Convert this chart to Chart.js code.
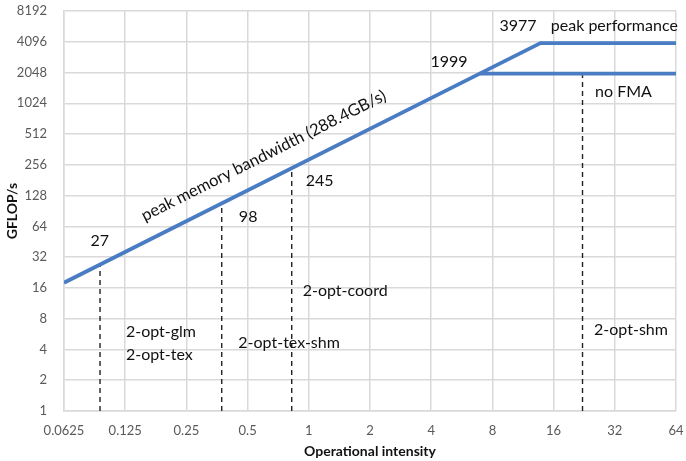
<!DOCTYPE html>
<html>
<head>
<meta charset="utf-8">
<script src="https://cdn.jsdelivr.net/npm/chart.js@4"></script>
<style>
  html, body { margin: 0; padding: 0; background: #fff; }
  #wrap { width: 686px; height: 461px; }
</style>
</head>
<body>
<div id="wrap"><canvas id="roofline"></canvas></div>
<script>
// Axis ticks (log2)
const xTicks = [0.0625, 0.125, 0.25, 0.5, 1, 2, 4, 8, 16, 32, 64];
const yTicks = [1, 2, 4, 8, 16, 32, 64, 128, 256, 512, 1024, 2048, 4096, 8192];

// Roofline: memory bound slope, then the two compute ceilings
const roofX = [0.0625, 6.93, 13.79, 64];
const roofY = [18.0, 1999, 3977, 3977];
const noFmaX = [6.93, 64];
const noFmaY = [1999, 1999];

// Kernel markers (vertical dashed lines from 1 up to the roof)
const kernelX = [0.094, 0.373, 0.824, 22.2];
const kernelTop = [27, 108, 238, 1999];

// Text labels placed in data space
const labels = [
    { text: '27', x: 0.0938, y: 46, align: 'center' },
    { text: '98', x: 0.503, y: 79, align: 'center' },
    { text: '245', x: 1.13, y: 177, align: 'center' },
    { text: '1999', x: 4.89, y: 2630, align: 'center' },
    { text: '3977', x: 10.7, y: 5880, align: 'center' },
    { text: 'peak performance', x: 15.5, y: 5880, align: 'left' },
    { text: 'no FMA', x: 25.6, y: 1333, align: 'left' },
    { text: '2-opt-coord', x: 0.933, y: 14.9, align: 'left' },
    { text: '2-opt-glm', x: 0.126, y: 5.92, align: 'left' },
    { text: '2-opt-tex', x: 0.126, y: 3.58, align: 'left' },
    { text: '2-opt-tex-shm', x: 0.45, y: 4.66, align: 'left' },
    { text: '2-opt-shm', x: 25.3, y: 6.28, align: 'left' }
];
const slopeLabel = { text: 'peak memory bandwidth (288.4GB/s)', x: 0.60, y: 315 };

const FONT = 'Lato, "Open Sans", sans-serif';
const BLUE = '#4a7cc4';

function toPoints(xs, ys) {
    return xs.map((x, i) => ({ x: x, y: ys[i] }));
}

const datasets = [
    {
        data: toPoints(roofX, roofY),
        borderColor: BLUE,
        borderWidth: 3.8,
        pointRadius: 0,
        tension: 0
    },
    {
        data: toPoints(noFmaX, noFmaY),
        borderColor: BLUE,
        borderWidth: 3.8,
        pointRadius: 0,
        tension: 0
    }
];

kernelX.forEach((x, i) => {
    datasets.push({
        data: [{ x: x, y: 1 }, { x: x, y: kernelTop[i] }],
        borderColor: '#222',
        borderWidth: 1.4,
        borderDash: [5, 4],
        pointRadius: 0
    });
});

// Draws annotation text using the chart's own scales
const textPlugin = {
    id: 'roofText',
    afterDatasetsDraw(chart) {
        const ctx = chart.ctx;
        const xs = chart.scales.x;
        const ys = chart.scales.y;
        ctx.save();
        ctx.fillStyle = '#111';
        ctx.font = '16px ' + FONT;
        ctx.textBaseline = 'middle';
        labels.forEach(l => {
            ctx.textAlign = l.align;
            ctx.fillText(l.text, xs.getPixelForValue(l.x), ys.getPixelForValue(l.y));
        });

        // rotated label along the bandwidth slope
        const x0 = xs.getPixelForValue(roofX[0]);
        const y0 = ys.getPixelForValue(roofY[0]);
        const x1 = xs.getPixelForValue(roofX[1]);
        const y1 = ys.getPixelForValue(roofY[1]);
        const angle = Math.atan2(y1 - y0, x1 - x0);
        ctx.translate(xs.getPixelForValue(slopeLabel.x), ys.getPixelForValue(slopeLabel.y));
        ctx.rotate(angle);
        ctx.textAlign = 'center';
        ctx.font = '16.5px ' + FONT;
        ctx.fillText(slopeLabel.text, 0, 0);
        ctx.restore();
    }
};

const ctx = document.getElementById('roofline').getContext('2d');
new Chart(ctx, {
    type: 'line',
    data: { datasets: datasets },
    plugins: [textPlugin],
    options: {
        responsive: true,
        maintainAspectRatio: false,
        animation: false,
        layout: { padding: { top: 11, right: 10, left: 0, bottom: 0 } },
        plugins: {
            legend: { display: false },
            tooltip: { enabled: false }
        },
        scales: {
            x: {
                type: 'logarithmic',
                min: xTicks[0],
                max: xTicks[xTicks.length - 1],
                afterBuildTicks: (scale) => { scale.ticks = xTicks.map(v => ({ value: v })); },
                afterFit: (scale) => {
                    scale.height = 50;
                    scale.paddingLeft = 0;
                    scale.paddingRight = 0;
                },
                grid: { color: '#d9d9d9', lineWidth: 1.5, drawTicks: false },
                border: { color: '#d9d9d9', width: 1.5 },
                ticks: {
                    color: '#595959',
                    font: { family: FONT, size: 13 },
                    padding: 12,
                    maxRotation: 0,
                    autoSkip: false,
                    callback: (v) => String(v)
                },
                title: {
                    display: true,
                    text: 'Operational intensity',
                    color: '#111',
                    font: { family: FONT, size: 14, weight: 'bold' },
                    padding: { top: 0, bottom: 1 }
                }
            },
            y: {
                type: 'logarithmic',
                min: yTicks[0],
                max: yTicks[yTicks.length - 1],
                afterBuildTicks: (scale) => { scale.ticks = yTicks.map(v => ({ value: v })); },
                afterFit: (scale) => {
                    scale.width = 64;
                    scale.paddingTop = 0;
                    scale.paddingBottom = 0;
                },
                grid: { color: '#d9d9d9', lineWidth: 1.5, drawTicks: false },
                border: { color: '#d9d9d9', width: 1.5 },
                ticks: {
                    color: '#595959',
                    font: { family: FONT, size: 13 },
                    padding: 17,
                    autoSkip: false,
                    callback: (v) => String(v)
                },
                title: {
                    display: true,
                    text: 'GFLOP/s',
                    color: '#111',
                    font: { family: FONT, size: 14, weight: 'bold' },
                    padding: { top: 4, bottom: 0 }
                }
            }
        }
    }
});
</script>
</body>
</html>
